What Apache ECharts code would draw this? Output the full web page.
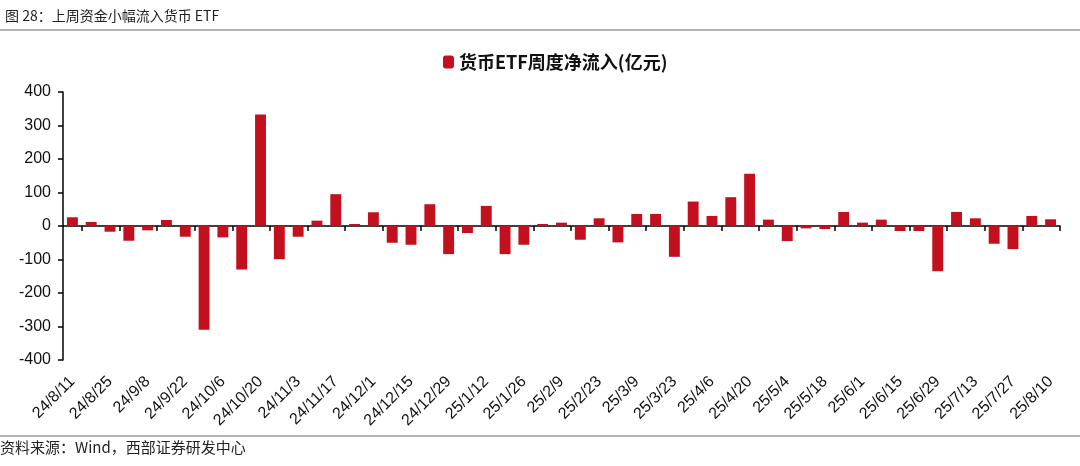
<!DOCTYPE html>
<html><head><meta charset="utf-8">
<script src="https://cdn.jsdelivr.net/npm/echarts@6/dist/echarts.min.js"></script>
<style>html,body{margin:0;padding:0;background:#fff}#c{width:1080px;height:466px}</style>
</head><body><div id="c"></div>
<script>
var categories = ['24/8/11','24/8/18','24/8/25','24/9/1','24/9/8','24/9/15','24/9/22','24/9/29','24/10/6','24/10/13','24/10/20','24/10/27','24/11/3','24/11/10','24/11/17','24/11/24','24/12/1','24/12/8','24/12/15','24/12/22','24/12/29','25/1/5','25/1/12','25/1/19','25/1/26','25/2/2','25/2/9','25/2/16','25/2/23','25/3/2','25/3/9','25/3/16','25/3/23','25/3/30','25/4/6','25/4/13','25/4/20','25/4/27','25/5/4','25/5/11','25/5/18','25/5/25','25/6/1','25/6/8','25/6/15','25/6/22','25/6/29','25/7/6','25/7/13','25/7/20','25/7/27','25/8/3','25/8/10'];
var netFlow = [26,12,-17,-44,-13,18,-32,-310,-34,-130,333,-99,-32,16,95,6,41,-50,-56,65,-84,-21,60,-84,-56,6,10,-41,23,-49,36,36,-92,73,30,86,156,19,-45,-7,-9,42,10,19,-15,-15,-135,42,23,-53,-69,30,20];
var seriesName = '货币ETF周度净流入(亿元)';
var titleText = '图 28：上周资金小幅流入货币 ETF';
var sourceText = '资料来源：Wind，西部证券研发中心';

var chart = echarts.init(document.getElementById('c'));
var font = '"Liberation Sans", Arial, sans-serif';
var cjk = '"Noto Sans CJK SC", sans-serif';
chart.setOption({
  animation: false,
  title: {text: titleText, left: 0, top: 4, textStyle: {fontFamily: cjk, fontSize: 14, fontWeight: 'normal', color: '#222'}},
  legend: {data: [seriesName], left: 438, top: 48, itemWidth: 11, itemHeight: 13, itemGap: 4,
    textStyle: {fontFamily: cjk, fontSize: 18, fontWeight: 'bold', color: '#111'}},
  graphic: [
    {type: 'line', shape: {x1: 0, y1: 30, x2: 1080, y2: 30}, style: {stroke: '#999', lineWidth: 1.5}},
    {type: 'line', shape: {x1: 0, y1: 436, x2: 1080, y2: 436}, style: {stroke: '#999', lineWidth: 1.5}},
    {type: 'text', left: 0, top: 440, style: {text: sourceText, font: '15px "Noto Sans CJK SC", sans-serif', fill: '#222'}}
  ],
  grid: {left: 63, right: 20, top: 92, bottom: 106, containLabel: false},
  xAxis: [
    {type: 'category', data: categories, position: 'bottom', axisLine: {show: false, onZero: false},
      axisTick: {show: false},
      axisLabel: {interval: 1, rotate: 45, margin: 19, fontFamily: font, fontSize: 16, color: '#111'}},
    {type: 'category', data: categories, position: 'bottom',
      axisLine: {show: true, onZero: true, lineStyle: {color: '#000', width: 1.5}},
      axisTick: {show: true, interval: function (i) { return i % 2 === 1; }, length: 5, lineStyle: {color: '#000', width: 1.5}},
      axisLabel: {show: false}}
  ],
  yAxis: {type: 'value', min: -400, max: 400, interval: 100,
    axisLine: {show: true, lineStyle: {color: '#000', width: 1.5}},
    axisTick: {show: true, length: 5, lineStyle: {color: '#000', width: 1.5}},
    splitLine: {show: false},
    axisLabel: {fontFamily: font, fontSize: 16, color: '#111', margin: 12}},
  series: [{name: seriesName, type: 'bar', xAxisIndex: 0, data: netFlow, barWidth: '58%',
    itemStyle: {color: '#C3101F'}}]
});
</script></body></html>
